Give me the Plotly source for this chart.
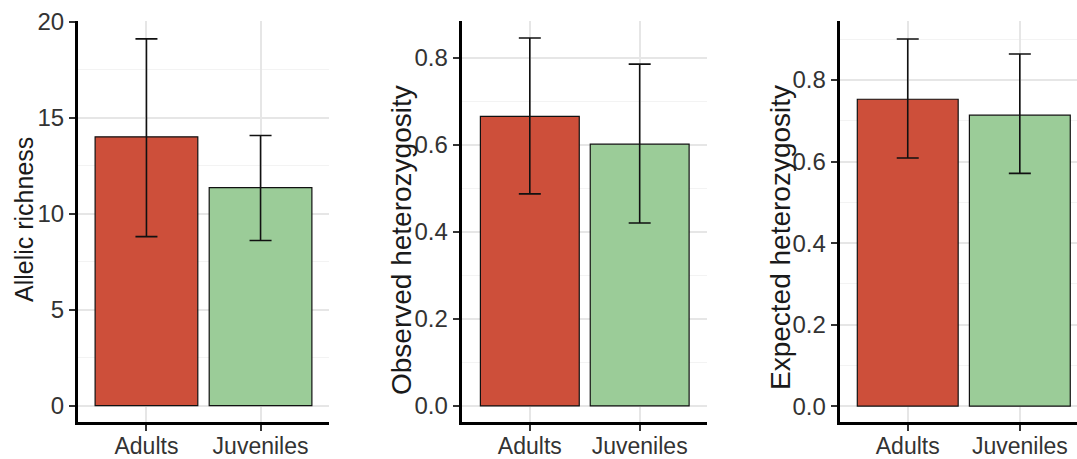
import plotly.graph_objects as go

# Genetic diversity summary: adults vs juveniles
categories = ["Adults", "Juveniles"]
bar_colors = ["#CD4F3A", "#9BCC98"]

allelic_richness = [14.0, 11.35]
allelic_richness_upper = [19.1, 14.07]
allelic_richness_lower = [8.8, 8.6]

observed_het = [0.665, 0.601]
observed_het_upper = [0.845, 0.785]
observed_het_lower = [0.487, 0.42]

expected_het = [0.753, 0.714]
expected_het_upper = [0.901, 0.864]
expected_het_lower = [0.609, 0.571]

FONT = "Liberation Sans, Arial, sans-serif"
TICK_COLOR = "#333333"
GRID_MAJOR = "#E6E6E6"
GRID_MINOR = "#F3F3F3"

panels = [
    dict(values=allelic_richness, upper=allelic_richness_upper, lower=allelic_richness_lower,
         title="Allelic richness", title_size=25, title_x=24, title_y=220,
         xdomain=[78, 329], xrange=[-0.6, 1.6], yrange=[-0.85, 20.03],
         dtick=5, fmt="d"),
    dict(values=observed_het, upper=observed_het_upper, lower=observed_het_lower,
         title="Observed heterozygosity", title_size=28, title_x=401, title_y=240,
         xdomain=[461.7, 706.7], xrange=[-0.62, 1.61], yrange=[-0.037, 0.884],
         dtick=0.2, fmt=".1f"),
    dict(values=expected_het, upper=expected_het_upper, lower=expected_het_lower,
         title="Expected heterozygosity", title_size=28, title_x=780, title_y=237,
         xdomain=[839.7, 1077], xrange=[-0.607, 1.51], yrange=[-0.039, 0.945],
         dtick=0.2, fmt=".1f"),
]

W, H = 1077, 459
PLOT_TOP, PLOT_BOTTOM = 21, 422

fig = go.Figure()
layout = dict(
    width=W, height=H,
    margin=dict(l=0, r=0, t=0, b=0, autoexpand=False),
    paper_bgcolor="white", plot_bgcolor="white",
    showlegend=False,
    bargap=0.1,
    annotations=[],
)

for i, p in enumerate(panels, start=1):
    sx = "" if i == 1 else str(i)
    err_plus = [u - v for u, v in zip(p["upper"], p["values"])]
    err_minus = [v - l for v, l in zip(p["values"], p["lower"])]
    fig.add_trace(go.Bar(
        x=categories, y=p["values"],
        xaxis="x" + sx, yaxis="y" + sx,
        width=0.9,
        marker=dict(color=bar_colors, line=dict(color="#111111", width=1.2)),
        error_y=dict(type="data", symmetric=False, array=err_plus, arrayminus=err_minus,
                     color="#111111", thickness=1.6, width=11),
        hoverinfo="skip",
    ))
    layout["xaxis" + sx] = dict(
        domain=[p["xdomain"][0] / W, p["xdomain"][1] / W],
        anchor="y" + sx,
        type="category", range=p["xrange"],
        automargin=False,
        showline=True, linecolor="black", linewidth=3,
        showgrid=True, gridcolor=GRID_MAJOR, gridwidth=1.5,
        ticks="outside", ticklen=6, tickwidth=1.5, tickcolor=TICK_COLOR,
        ticklabelstandoff=-5,
        tickfont=dict(family=FONT, size=23, color=TICK_COLOR),
        zeroline=False, fixedrange=True,
    )
    layout["yaxis" + sx] = dict(
        domain=[1 - PLOT_BOTTOM / H, 1 - PLOT_TOP / H],
        anchor="x" + sx,
        range=p["yrange"],
        automargin=False,
        tick0=0, dtick=p["dtick"], tickformat=p["fmt"],
        showline=True, linecolor="black", linewidth=3,
        showgrid=True, gridcolor=GRID_MAJOR, gridwidth=1.5,
        minor=dict(dtick=p["dtick"] / 2, tick0=0, showgrid=True,
                   gridcolor=GRID_MINOR, gridwidth=1, ticks=""),
        ticks="outside", ticklen=6, tickwidth=1.5, tickcolor=TICK_COLOR,
        tickfont=dict(family=FONT, size=24, color=TICK_COLOR),
        zeroline=False, fixedrange=True,
    )
    layout["annotations"].append(dict(
        text=p["title"], textangle=-90,
        xref="paper", yref="paper",
        x=p["title_x"] / W, y=1 - p["title_y"] / H,
        xanchor="center", yanchor="middle",
        showarrow=False,
        font=dict(family=FONT, size=p["title_size"], color="#1a1a1a"),
    ))

fig.update_layout(**layout)
fig.write_html("out.html")
